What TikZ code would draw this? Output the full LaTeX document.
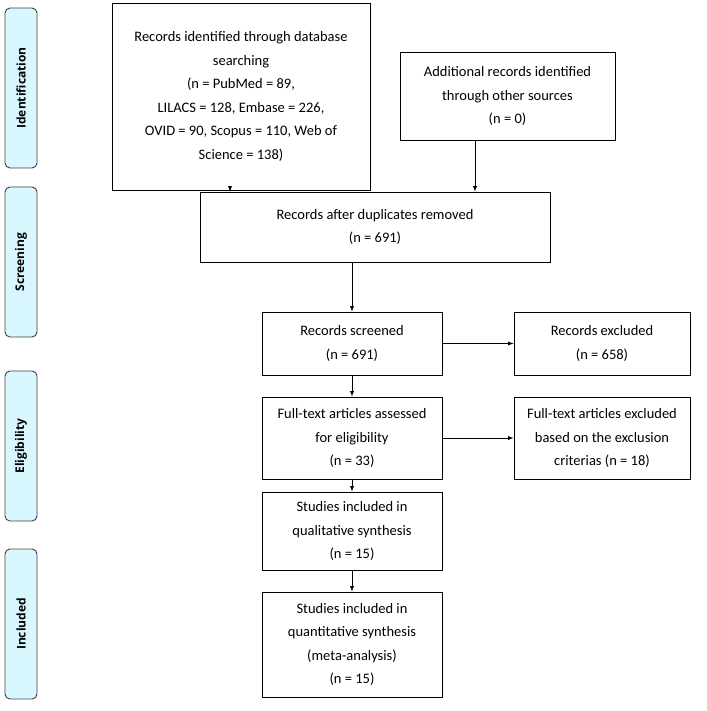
\documentclass[tikz,border=0pt]{standalone}
\usepackage{fontspec}
\setmainfont{Carlito}
\newfontfamily\sidefont{Open Sans}
\usepackage{tikz}

\begin{document}
\begin{tikzpicture}[x=1pt,y=-1pt]
        % Define styles
        \tikzset{
            box/.style={rectangle, draw, line width=0.9pt, align=center, font=\fontsize{14.5}{23.5}\selectfont, inner sep=2pt},
            phase/.style={rectangle, rounded corners=5pt, draw=black!75, line width=0.9pt, fill=blue!20!cyan!15, minimum height=32, rotate=90, font=\sidefont\bfseries\fontsize{12}{14}\selectfont},
            arrow/.style={->,>=latex, line width=0.9pt}
        }
        \useasboundingbox (0,0) rectangle (706,711);

        % Phases
        \node[phase, minimum width=160] (phase_ident) at (21,88) {Identification};
        \node[phase, minimum width=150] (phase_screen) at (21,262) {Screening};
        \node[phase, minimum width=150] (phase_elig) at (21,446) {Eligibility};
        \node[phase, minimum width=150] (phase_incl) at (21,624) {Included};

        % Nodes
        \node[box, minimum width=258, minimum height=187] (records_db) at (241,96.5) {Records identified through database\\searching\\(n = PubMed = 89,\\LILACS = 128, Embase = 226,\\OVID = 90, Scopus = 110, Web of\\Science = 138)};
        \node[box, minimum width=215, minimum height=88] (records_other) at (507.5,96) {Additional records identified\\through other sources\\(n = 0)};
        \node[box, minimum width=350, minimum height=70] (records_dup) at (375,227) {Records after duplicates removed\\(n = 691)};
        \node[box, minimum width=180, minimum height=63] (records_screen) at (352,343.5) {Records screened\\(n = 691)};
        \node[box, minimum width=176, minimum height=63] (records_excl) at (602,343.5) {Records excluded\\(n = 658)};
        \node[box, minimum width=180, minimum height=82] (fulltext) at (352,438) {Full-text articles assessed\\for eligibility\\(n = 33)};
        \node[box, minimum width=176, minimum height=82] (fulltext_excl) at (602,438) {Full-text articles excluded\\based on the exclusion\\criterias (n = 18)};
        \node[box, minimum width=180, minimum height=78] (studies_qual) at (352,531) {Studies included in\\qualitative synthesis\\(n = 15)};
        \node[box, minimum width=180, minimum height=105] (studies_quant) at (352,644.5) {Studies included in\\quantitative synthesis\\(meta-analysis)\\(n = 15)};
        \coordinate (left_drop) at (230,0);
        \coordinate (right_drop) at (475,0);

        % Arrows
        \draw[arrow] (records_db.south -| left_drop) -- (records_dup.north -| left_drop);
        \draw[arrow] (records_other.south -| right_drop) -- (records_dup.north -| right_drop);
        \draw[arrow] (records_dup.south -| records_screen) -- (records_screen);
        \draw[arrow] (records_screen) -- (records_excl);
        \draw[arrow] (records_screen) -- (fulltext);
        \draw[arrow] (fulltext) -- (fulltext_excl);
        \draw[arrow] (fulltext) -- (studies_qual);
        \draw[arrow] (studies_qual) -- (studies_quant);
    \end{tikzpicture}
\end{document}
